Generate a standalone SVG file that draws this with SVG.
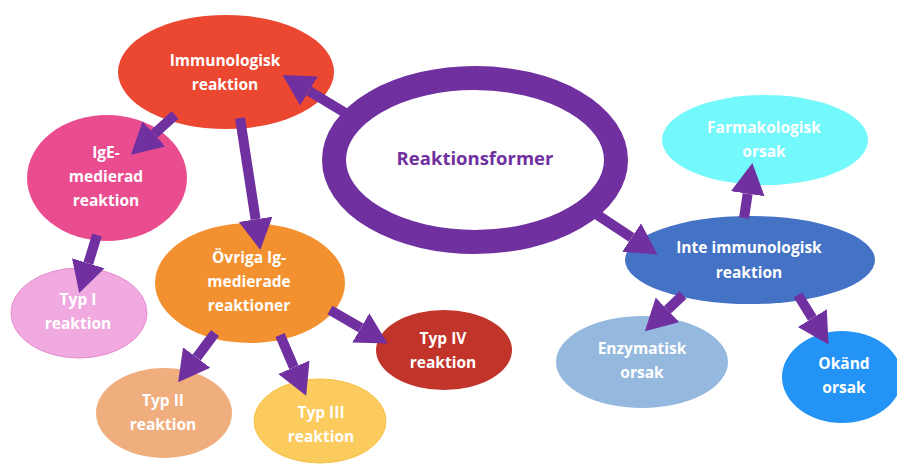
<svg xmlns="http://www.w3.org/2000/svg" width="897" height="467" viewBox="0 0 897 467">
<defs>
<style>
.lbl{font-family:"Open Sans","Noto Sans","Liberation Sans",sans-serif;font-weight:700;font-size:15.5px;fill:#ffffff;text-anchor:middle}
.title{font-family:"Open Sans","Noto Sans","Liberation Sans",sans-serif;font-weight:700;font-size:18.5px;fill:#7030A0;text-anchor:middle}
.conn line{stroke:#7030A0;stroke-width:10;marker-end:url(#ah)}
</style>
<marker id="ah" markerUnits="userSpaceOnUse" markerWidth="32" markerHeight="36" refX="0" refY="18" orient="auto">
<path d="M0,1 L31,18 L0,35 Z" fill="#7030A0"/>
</marker>
</defs>
<rect width="897" height="467" fill="#ffffff"/>

<g id="node-immunologisk">
<ellipse cx="226" cy="72" rx="108" ry="57" fill="#EC4731"/>
<text class="lbl" x="225"><tspan x="225" y="66">Immunologisk</tspan><tspan x="225" y="90">reaktion</tspan></text>
</g>

<g id="node-reaktionsformer">
<ellipse cx="475" cy="160" rx="141" ry="82" fill="#ffffff" stroke="#7030A0" stroke-width="24"/>
<text class="title" x="475" y="165">Reaktionsformer</text>
</g>

<g id="node-ige">
<ellipse cx="107" cy="178" rx="80" ry="63" fill="#EA4D8F"/>
<text class="lbl"><tspan x="106" y="158">IgE-</tspan><tspan x="106" y="182">medierad</tspan><tspan x="106" y="206">reaktion</tspan></text>
</g>

<g id="node-typ1">
<ellipse cx="79" cy="313" rx="68" ry="45" fill="#F0AADF" stroke="#E68ACF" stroke-width="1"/>
<text class="lbl"><tspan x="78" y="305">Typ I</tspan><tspan x="78" y="329">reaktion</tspan></text>
</g>

<g id="node-ovriga">
<ellipse cx="250" cy="283" rx="95" ry="60" fill="#F39130"/>
<text class="lbl"><tspan x="249" y="263">Övriga Ig-</tspan><tspan x="249" y="287">medierade</tspan><tspan x="249" y="311">reaktioner</tspan></text>
</g>

<g id="node-typ2">
<ellipse cx="164" cy="413" rx="68" ry="45" fill="#F0AE7E"/>
<text class="lbl"><tspan x="163" y="406">Typ II</tspan><tspan x="163" y="430">reaktion</tspan></text>
</g>

<g id="node-typ3">
<ellipse cx="320" cy="421" rx="66" ry="42" fill="#FBCB5E" stroke="#F5C040" stroke-width="1"/>
<text class="lbl"><tspan x="321" y="418">Typ III</tspan><tspan x="321" y="442">reaktion</tspan></text>
</g>

<g id="node-typ4">
<ellipse cx="444" cy="350" rx="68" ry="40" fill="#C1342A"/>
<text class="lbl"><tspan x="443" y="344">Typ IV</tspan><tspan x="443" y="368">reaktion</tspan></text>
</g>

<g id="node-inte">
<ellipse cx="750" cy="260" rx="125" ry="44" fill="#4472C4"/>
<text class="lbl"><tspan x="749" y="253">Inte immunologisk</tspan><tspan x="749" y="278">reaktion</tspan></text>
</g>

<g id="node-farmakologisk">
<ellipse cx="765" cy="140" rx="103" ry="45" fill="#73F8FB"/>
<text class="lbl"><tspan x="764" y="133">Farmakologisk</tspan><tspan x="764" y="157">orsak</tspan></text>
</g>

<g id="node-enzymatisk">
<ellipse cx="642" cy="362" rx="86" ry="46" fill="#95B9DE"/>
<text class="lbl"><tspan x="642" y="354">Enzymatisk</tspan><tspan x="642" y="378">orsak</tspan></text>
</g>

<g id="node-okand">
<ellipse cx="842" cy="377" rx="60" ry="46" fill="#2394F6"/>
<text class="lbl"><tspan x="844" y="369">Okänd</tspan><tspan x="844" y="393">orsak</tspan></text>
</g>

<g id="connectors" class="conn">
<line x1="352" y1="117" x2="309" y2="91"/>
<line x1="175" y1="115" x2="154" y2="134"/>
<line x1="240" y1="118" x2="255.6" y2="219.3"/>
<line x1="97" y1="235" x2="88.3" y2="263.3"/>
<line x1="215" y1="333" x2="196.7" y2="357.5"/>
<line x1="280" y1="335" x2="293.9" y2="367.3"/>
<line x1="330" y1="310" x2="360.8" y2="327.9"/>
<line x1="590" y1="210" x2="631.6" y2="237.5"/>
<line x1="744" y1="218" x2="747.7" y2="193.7"/>
<line x1="683" y1="295" x2="667.4" y2="309.8"/>
<line x1="798" y1="295" x2="812.3" y2="318.2"/>
</g>
</svg>
